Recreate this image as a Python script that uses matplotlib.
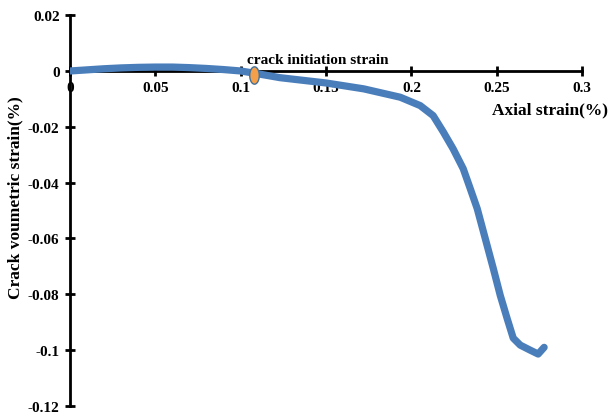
import matplotlib
matplotlib.use("Agg")
import matplotlib.pyplot as plt
import numpy as np
from matplotlib.path import Path

axial_strain = [0, 0.01, 0.02, 0.03, 0.04, 0.05, 0.06, 0.07, 0.08, 0.09, 0.10,
                0.108, 0.123, 0.150, 0.172, 0.1934, 0.2051, 0.2127, 0.2186,
                0.2244, 0.2303, 0.2344, 0.2385, 0.2443, 0.2479, 0.2520, 0.2560,
                0.2596, 0.2637, 0.2695, 0.2742, 0.2777]
crack_vol_strain = [0, 0.0004, 0.0008, 0.0011, 0.0013, 0.0014, 0.0014, 0.0012,
                    0.0009, 0.0005, 0.0, -0.0008, -0.0024, -0.0043, -0.0064,
                    -0.0094, -0.0124, -0.0160, -0.0218, -0.0279, -0.0350,
                    -0.0421, -0.0493, -0.0625, -0.0707, -0.0804, -0.0886,
                    -0.0957, -0.0982, -0.1000, -0.1014, -0.0990]
ci_x = [0.108]
ci_y = [-0.0016]
ci_label = "crack initiation strain"

xticks = [0, 0.05, 0.1, 0.15, 0.2, 0.25, 0.3]
xticklabels = ["0", "0.05", "0.1", "0.15", "0.2", "0.25", "0.3"]
yticks = [0.02, 0, -0.02, -0.04, -0.06, -0.08, -0.1, -0.12]
yticklabels = ["0.02", "0", "-0.02", "-0.04", "-0.06", "-0.08", "-0.1", "-0.12"]

plt.rcParams['font.family'] = ['Liberation Serif', 'DejaVu Serif']
plt.rcParams['font.weight'] = 'bold'

fig = plt.figure(figsize=(6.09, 4.14), dpi=100)
ax = fig.add_axes([0.115, 0.017, 0.841, 0.944])

ax.plot(axial_strain, crack_vol_strain, color='#4a7ebb', lw=5.2,
        solid_capstyle='round', solid_joinstyle='round', zorder=3)

t = np.linspace(0, 2 * np.pi, 60)
ell = Path(np.column_stack([0.55 * np.cos(t), np.sin(t)]))
ax.plot(ci_x, ci_y, linestyle='none', marker=ell, markersize=12.5,
        markerfacecolor='#f4a04a', markeredgecolor='#41719c',
        markeredgewidth=1.0, zorder=4)
ax.text(ci_x[0] - 0.0045, 0.0040, ci_label, ha='left', va='center',
        fontsize=11, fontweight='bold')

ax.set_xlim(0, 0.3)
ax.set_ylim(-0.12, 0.02)
ax.set_xticks(xticks)
ax.set_xticklabels(xticklabels)
ax.set_yticks(yticks)
ax.set_yticklabels(yticklabels)

for s in ['top', 'right']:
    ax.spines[s].set_visible(False)
ax.spines['bottom'].set_position(('data', 0))
ax.spines['left'].set_position(('data', 0))
for s in ['bottom', 'left']:
    ax.spines[s].set_linewidth(2)
    ax.spines[s].set_color('black')
ax.tick_params(axis='both', direction='inout', length=7, width=2,
               labelsize=11, pad=4)
for lab in ax.get_xticklabels() + ax.get_yticklabels():
    lab.set_fontweight('bold')

fig.text(0.999, 0.733, "Axial strain(%)", ha='right', va='center',
         fontsize=12.5, fontweight='bold')
fig.text(0.025, 0.522, "Crack voumetric strain(%)", ha='center', va='center',
         rotation=90, fontsize=12.5, fontweight='bold')

fig.savefig("out.png", dpi=100)
